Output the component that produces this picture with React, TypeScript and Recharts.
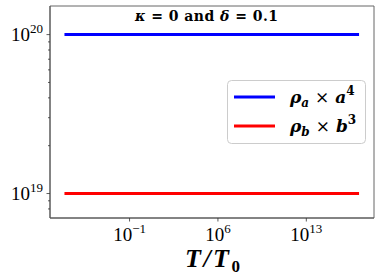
import React from "react";
import { LineChart, Line, XAxis, YAxis, ReferenceArea, Legend } from "recharts";

// ---- data ----
const temperatures = [7e-7, 1e-3, 1, 1e3, 1e6, 1e9, 1e12, 1e15, 1.5e17];
const rhoAxA4 = [1e20, 1e20, 1e20, 1e20, 1e20, 1e20, 1e20, 1e20, 1e20];
const rhoBxB3 = [1e19, 1e19, 1e19, 1e19, 1e19, 1e19, 1e19, 1e19, 1e19];
const xTicks = [1e-1, 1e6, 1e13];
const yTicks = [8e18, 9e18, 1e19, 2e19, 3e19, 4e19, 5e19, 6e19, 7e19, 8e19, 9e19, 1e20];
const xDomain = [Math.pow(10, -7.3), Math.pow(10, 18.36)];
const yDomain = [Math.pow(10, 18.846), Math.pow(10, 20.18)];

const data = temperatures.map((t, i) => ({ t, a: rhoAxA4[i], b: rhoBxB3[i] }));

const FONT = "'Liberation Serif', 'DejaVu Serif', serif";
const MFONT = "'DejaVu Serif', 'Liberation Serif', serif";

const isMajor = (v: number) => {
  const e = Math.round(Math.log10(v));
  return { e, major: Math.abs(v - Math.pow(10, e)) / v < 1e-6 };
};

const YTick = (props: any) => {
  const { x, y, payload } = props;
  const { e, major } = isMajor(payload.value);
  return (
    <g>
      <line x1={x} x2={x - (major ? 3.5 : 2)} y1={y} y2={y} stroke="#333" strokeWidth={0.8} />
      {major && (
        <text x={x - 7} y={y + 6} textAnchor="end" fontFamily={FONT} fontSize={19} fill="#000">
          <tspan>10</tspan>
          <tspan dy={-8} fontSize={13}>{e}</tspan>
        </text>
      )}
    </g>
  );
};

const XTick = (props: any) => {
  const { x, y, payload } = props;
  const { e } = isMajor(payload.value);
  const exp = e < 0 ? "\u2212" + Math.abs(e) : String(e);
  return (
    <g>
      <line x1={x} x2={x} y1={y} y2={y + 3.5} stroke="#333" strokeWidth={0.8} />
      <text x={x} y={y + 23} textAnchor="middle" fontFamily={FONT} fontSize={19} fill="#000">
        <tspan>10</tspan>
        <tspan dy={-8} fontSize={13}>{exp}</tspan>
      </text>
    </g>
  );
};

const LegendBox = (props: any) => {
  const payload = props.payload || [];
  const labels: Record<string, [string, string, string, string]> = {
    a: ["\u03c1", "a", "a", "4"],
    b: ["\u03c1", "b", "b", "3"],
  };
  return (
    <svg width={140} height={65} style={{ display: "block" }}>
      <rect x={0.5} y={0.5} width={138} height={63} rx={4} ry={4} fill="#fff" stroke="#ccc" />
      {payload.map((p: any, i: number) => {
        const yy = 17 + i * 29;
        const l = labels[p.dataKey] || ["", "", "", ""];
        return (
          <g key={i}>
            <line x1={7} x2={48} y1={yy} y2={yy} stroke={p.color} strokeWidth={3} />
            <text x={63} y={yy + 6} fontFamily={MFONT} fontSize={17} fontWeight="bold" fill="#000">
              <tspan fontStyle="italic">{l[0]}</tspan>
              <tspan fontStyle="italic" fontSize={12} dy={4}>{l[1]}</tspan>
              <tspan dy={-4} dx={6} fontWeight="normal">{"\u00d7"}</tspan>
              <tspan dx={6} fontStyle="italic">{l[2]}</tspan>
              <tspan dy={-8} fontSize={12}>{l[3]}</tspan>
            </text>
          </g>
        );
      })}
    </svg>
  );
};

export default function App() {
  return (
    <div style={{ position: "absolute", left: 0, top: 0, width: 382, height: 279, background: "#fff" }}>
      <LineChart width={382} height={279} data={data} margin={{ top: 6, right: 8, left: 0, bottom: 0 }}>
        <XAxis
          dataKey="t"
          type="number"
          scale="log"
          domain={xDomain}
          allowDataOverflow
          ticks={xTicks}
          interval={0}
          height={61}
          tickSize={0}
          tickMargin={0}
          tickLine={false}
          axisLine={{ stroke: "#555", strokeWidth: 1 }}
          tick={<XTick />}
        />
        <YAxis
          type="number"
          scale="log"
          domain={yDomain}
          allowDataOverflow
          ticks={yTicks}
          interval={0}
          width={50}
          tickSize={0}
          tickMargin={0}
          tickLine={false}
          axisLine={{ stroke: "#555", strokeWidth: 1 }}
          tick={<YTick />}
        />
        <ReferenceArea
          x1={xDomain[0]}
          x2={xDomain[1]}
          y1={yDomain[0]}
          y2={yDomain[1]}
          fill="none"
          fillOpacity={0}
          stroke="#666"
          strokeWidth={1}
          ifOverflow="visible"
        />
        <Line dataKey="a" name="a" stroke="#0000ff" strokeWidth={3} dot={false} isAnimationActive={false} />
        <Line dataKey="b" name="b" stroke="#ff0000" strokeWidth={3} dot={false} isAnimationActive={false} />
        <Legend
          layout="vertical"
          align="center"
          verticalAlign="middle"
          content={<LegendBox />}
          wrapperStyle={{ left: 227, top: 80, width: 140, height: 65 }}
        />
      </LineChart>
      <svg width={382} height={279} style={{ position: "absolute", left: 0, top: 0, pointerEvents: "none" }}>
        <text x={135} y={21} fontFamily={MFONT} fontSize={14} fontWeight="bold" fill="#000" textLength={143} lengthAdjust="spacing">
          <tspan fontStyle="italic">{"\u03ba"}</tspan>
          <tspan>{" = 0 and "}</tspan>
          <tspan fontStyle="italic">{"\u03b4"}</tspan>
          <tspan>{" = 0.1"}</tspan>
        </text>
        <text x={185} y={267} fontFamily={FONT} fontSize={26} fontWeight="bold" fontStyle="italic" fill="#000" textLength={55} lengthAdjust="spacing">
          <tspan>T/T</tspan>
          <tspan fontSize={17} dy={5} fontStyle="normal">0</tspan>
        </text>
      </svg>
    </div>
  );
}
